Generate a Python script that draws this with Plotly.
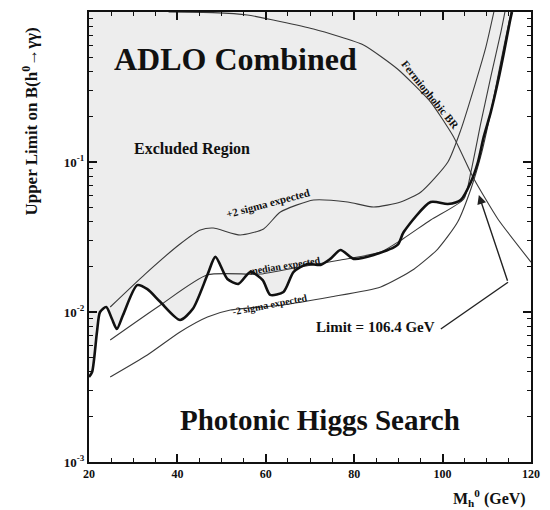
import numpy as np
import plotly.graph_objects as go

# ---------------- data ----------------
obs_mass = [20.0, 20.7, 21.8, 22.5, 23.9, 25.2, 26.3, 27.7, 30.9, 33.2, 36.1, 40.6, 43.5,
            46.8, 48.6, 51.3, 53.8, 56.5, 59.3, 61.0, 64.0, 66.3, 69.4, 72.4, 74.6, 76.9,
            79.9, 84.4, 89.8, 91.2, 97.3, 101.2, 104.1, 106.4, 108.0, 109.3, 110.9, 112.5,
            113.9, 115.2, 115.7]
obs_limit = [0.00369, 0.00398, 0.00736, 0.0100, 0.0108, 0.00898, 0.00770, 0.00955, 0.0151,
             0.0142, 0.0117, 0.00885, 0.0105, 0.0177, 0.0233, 0.0166, 0.0154, 0.0185, 0.0163,
             0.0130, 0.0136, 0.0185, 0.0209, 0.0206, 0.0226, 0.0259, 0.0226, 0.0240, 0.0280,
             0.0341, 0.0541, 0.0525, 0.0558, 0.0736, 0.100, 0.147, 0.215, 0.341, 0.541,
             0.858, 1.0]

med_mass = [24.8, 36.1, 46.8, 58.8, 67.8, 76.9, 86.0, 91.0, 97.3, 104.8, 106.4, 108.7,
            110.9, 113.2, 114.1]
med_limit = [0.00651, 0.0111, 0.0177, 0.0179, 0.0200, 0.0222, 0.0251, 0.0307, 0.0411,
             0.0567, 0.0858, 0.185, 0.369, 0.736, 1.0]

p2s_mass = [24.8, 32.7, 40.6, 45.2, 48.1, 54.2, 59.5, 63.3, 70.8, 78.5, 84.4, 90.5, 95.1,
            101.2, 104.1, 107.5, 109.8, 111.6]
p2s_limit = [0.0108, 0.0179, 0.0284, 0.0352, 0.0363, 0.0326, 0.0358, 0.0464, 0.0558,
             0.0541, 0.0501, 0.0541, 0.0631, 0.100, 0.163, 0.341, 0.585, 1.0]

m2s_mass = [24.8, 33.2, 40.6, 46.8, 52.0, 63.3, 74.6, 86.0, 93.5, 98.9, 103.4, 106.4,
            108.7, 110.9, 112.7, 114.3, 115.5]
m2s_limit = [0.00369, 0.00517, 0.00736, 0.00926, 0.0103, 0.0111, 0.0126, 0.0147, 0.0193,
             0.0263, 0.0398, 0.0661, 0.111, 0.215, 0.398, 0.681, 1.0]

fermio_mass = [38.0, 48.0, 55.8, 70.8, 82.1, 89.8, 97.3, 102.5, 107.1, 112.5, 120.0]
fermio_br = [1.0, 0.99, 0.955, 0.770, 0.603, 0.417, 0.251, 0.147, 0.077, 0.0417, 0.0215]

arrow_mass = [99.6, 114.8, 108.2]
arrow_limit = [0.0077, 0.0158, 0.0603]

x_ticks = [20, 40, 60, 80, 100, 120]
x_minor = [v for v in range(20, 121, 5) if v % 20]
y_ticks = [0.001, 0.01, 0.1]
y_ticktext = ["10<sup>-3</sup>", "10<sup>-2</sup>", "10<sup>-1</sup>"]
y_minor = [m * 10.0 ** e for e in (-3, -2, -1) for m in range(2, 10)]

SERIF = "Liberation Serif, Times New Roman, serif"
FILL = "#ededed"

fig = go.Figure()

# excluded region shading (above the observed limit)
fig.add_trace(go.Scatter(
    x=obs_mass + [obs_mass[0]], y=obs_limit + [1.0],
    fill="toself", fillcolor=FILL, line=dict(width=0), mode="lines",
    hoverinfo="skip", showlegend=False))

thin = dict(color="#3a3a3a", width=1.1)
fig.add_trace(go.Scatter(x=fermio_mass, y=fermio_br, mode="lines",
                         line=dict(shape="spline", smoothing=0.5, **thin), showlegend=False))
fig.add_trace(go.Scatter(x=p2s_mass, y=p2s_limit, mode="lines",
                         line=dict(shape="spline", smoothing=0.6, **thin), showlegend=False))
fig.add_trace(go.Scatter(x=m2s_mass, y=m2s_limit, mode="lines",
                         line=dict(shape="spline", smoothing=0.6, **thin), showlegend=False))
fig.add_trace(go.Scatter(x=med_mass, y=med_limit, mode="lines",
                         line=dict(shape="spline", smoothing=0.6, **thin), showlegend=False))
fig.add_trace(go.Scatter(x=obs_mass, y=obs_limit, mode="lines",
                         line=dict(color="#111111", width=2.6, shape="spline", smoothing=0.7),
                         showlegend=False))
# arrow leader line
fig.add_trace(go.Scatter(x=arrow_mass[:2], y=arrow_limit[:2], mode="lines",
                         line=dict(color="#222222", width=1.4), showlegend=False))

ann = []
def label(text, m, ly, size, angle=0):
    ann.append(dict(text=text, x=m, y=ly, xref="x", yref="y", showarrow=False,
                    textangle=angle, xanchor="center", yanchor="middle",
                    font=dict(family=SERIF, size=size, color="#111111")))

label("<b>ADLO Combined</b>", 53.1, -0.313, 32)
label("<b>Excluded Region</b>", 43.4, -0.913, 16)
label("<b>+2 sigma expected</b>", 60.6, -1.273, 11, -15)
label("<b>median expected</b>", 64.4, -1.690, 10, -9)
label("<b>-2 sigma expected</b>", 61.0, -1.950, 10, -11)
label("<b>Limit = 106.4 GeV</b>", 84.9, -2.10, 15)
label("<b>Fermiophobic BR</b>", 97.3, -0.553, 11, 51)
label("<b>Photonic Higgs Search</b>", 72.2, -2.72, 29)

# arrow head segment
ann.append(dict(x=arrow_mass[2], y=np.log10(arrow_limit[2]), xref="x", yref="y",
                ax=arrow_mass[1], ay=np.log10(arrow_limit[1]), axref="x", ayref="y",
                showarrow=True, arrowhead=2, arrowsize=1.3, arrowwidth=1.4,
                arrowcolor="#222222", text=""))

# axis titles
ann.append(dict(text="<b>Upper Limit on B(h<sup>0</sup>\u2192\u03b3\u03b3)</b>",
                x=-0.133, y=0.757, xref="paper", yref="paper", showarrow=False,
                xanchor="center", yanchor="middle",
                textangle=-90, font=dict(family=SERIF, size=17, color="#111111")))
ann.append(dict(text="<b>M<sub>h</sub><sup>0</sup> (GeV)</b>",
                x=0.907, y=-0.08, xref="paper", yref="paper", showarrow=False,
                xanchor="center", yanchor="middle",
                font=dict(family=SERIF, size=16, color="#111111")))

fig.update_layout(
    width=550, height=510,
    margin=dict(l=89, r=19, t=10, b=48),
    paper_bgcolor="white", plot_bgcolor="white",
    annotations=ann, showlegend=False,
)
fig.update_xaxes(
    range=[20, 120], showgrid=False, zeroline=False,
    showline=True, linewidth=2, linecolor="#111111", mirror="ticks",
    ticks="inside", ticklen=8, tickwidth=1.5, tickcolor="#111111",
    tickvals=x_ticks, ticktext=[f"<b>{v}</b>" for v in x_ticks],
    tickfont=dict(family=SERIF, size=12, color="#111111"),
    minor=dict(tickvals=x_minor, ticks="inside", ticklen=4, tickwidth=1.2, tickcolor="#111111"),
)
fig.update_yaxes(
    type="log", range=[-3, 0], showgrid=False, zeroline=False,
    showline=True, linewidth=2, linecolor="#111111", mirror="ticks",
    ticks="inside", ticklen=8, tickwidth=1.5, tickcolor="#111111",
    tickvals=y_ticks, ticktext=[f"<b>{t}</b>" for t in y_ticktext],
    tickfont=dict(family=SERIF, size=13, color="#111111"),
    minor=dict(tickvals=y_minor, ticks="inside", ticklen=4, tickwidth=1.2, tickcolor="#111111"),
)

fig.write_html("out.html")
